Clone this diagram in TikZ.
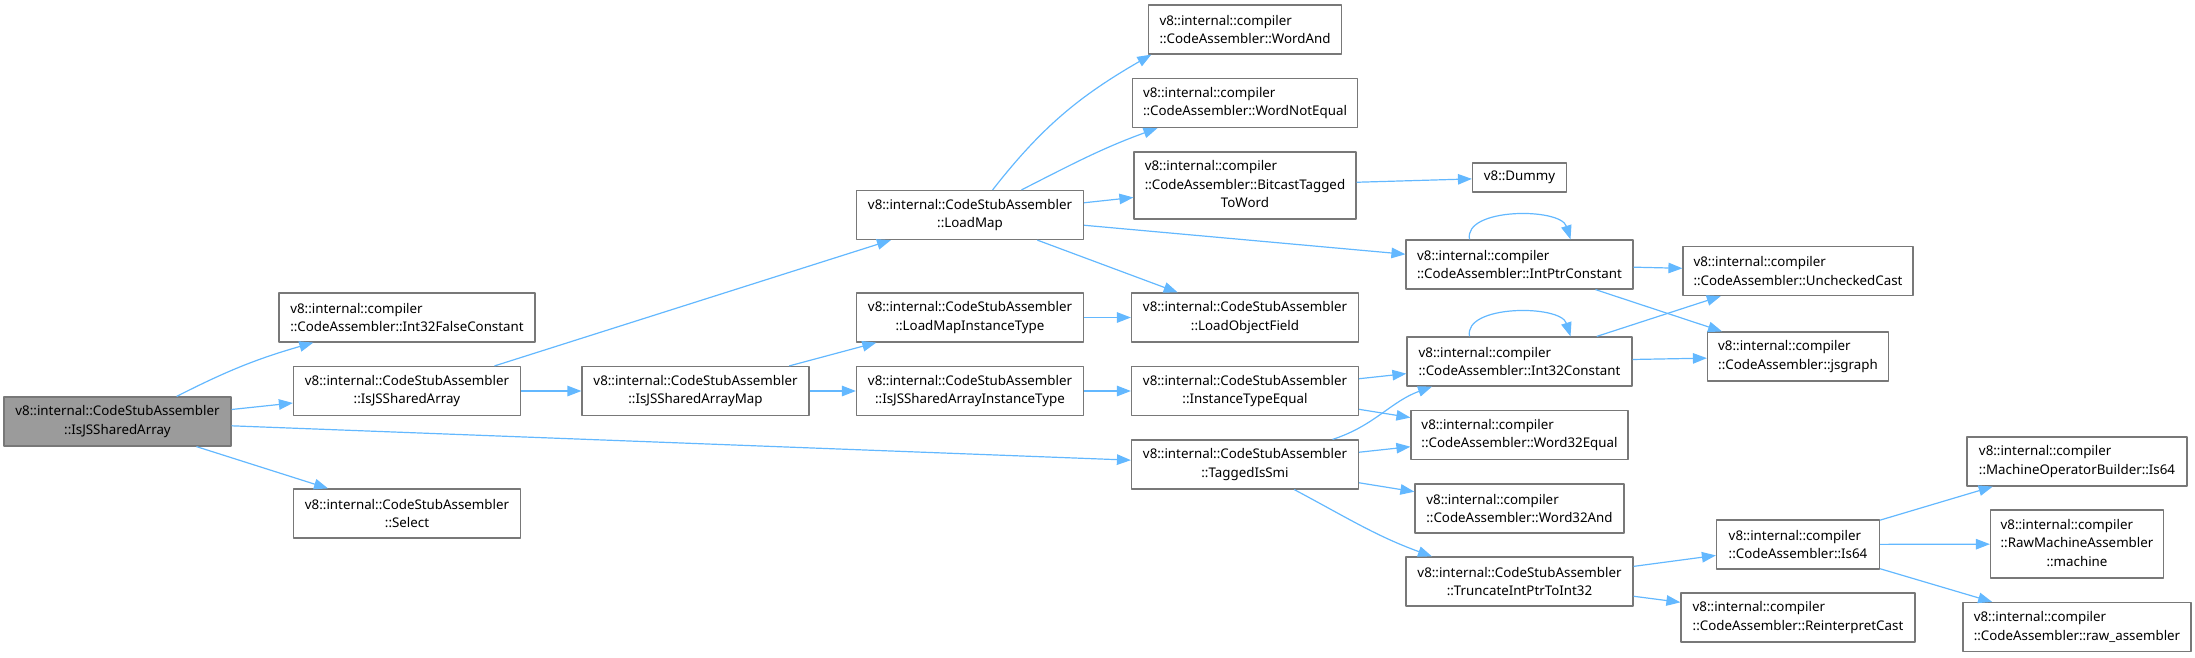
\documentclass[tikz,border=0pt]{standalone}
\usepackage{fontspec}
\setmainfont{Noto Sans}
\usetikzlibrary{arrows.meta}
\definecolor{callcol} {RGB}{ 99,184,255}
\definecolor{boxedge} {RGB}{120,120,120}
\definecolor{rootfill}{RGB}{155,155,155}

\begin{document}
\begin{tikzpicture}[
  % one unit = one pixel of the 2195x657 call graph, y runs downwards as -y
  x=1pt,y=1pt,
  >={Triangle[length=14pt,width=10.5pt]},
  line join=round,
  fn/.style={draw=boxedge,line width=1.2pt,fill=white,
    font=\fontsize{13.33}{18.5}\selectfont,
    inner xsep=4pt,inner ysep=2pt,minimum height=49pt},
  fnl/.style={fn,align=left},
  fnc/.style={fn,align=center},
  call/.style={callcol,line width=1.2pt,->}
]
\useasboundingbox (0,0) rectangle (2195,-657);

% ---- caller ---------------------------------------------------------------
\node[fnc,fill=rootfill,minimum width=227pt] (root) at (117.5,-421.5)
  {v8::internal::CodeStubAssembler\\::IsJSSharedArray};

% ---- rank 1 ---------------------------------------------------------------
\node[fnl,minimum width=256pt] (i32false) at (407,-317.5)
  {v8::internal::compiler\\::CodeAssembler::Int32FalseConstant};
\node[fnc,minimum width=227pt] (isjs) at (407,-391)
  {v8::internal::CodeStubAssembler\\::IsJSSharedArray};
\node[fnc,minimum width=227pt] (select) at (407,-513.5)
  {v8::internal::CodeStubAssembler\\::Select};

% ---- rank 2 ---------------------------------------------------------------
\node[fnc,minimum width=227pt] (isjsmap) at (695.5,-391)
  {v8::internal::CodeStubAssembler\\::IsJSSharedArrayMap};

% ---- rank 3 ---------------------------------------------------------------
\node[fnc,minimum width=227pt] (loadmap) at (970,-215)
  {v8::internal::CodeStubAssembler\\::LoadMap};
\node[fnc,minimum width=227pt] (lmit) at (970,-317.5)
  {v8::internal::CodeStubAssembler\\::LoadMapInstanceType};
\node[fnc,minimum width=227pt] (isait) at (970,-391)
  {v8::internal::CodeStubAssembler\\::IsJSSharedArrayInstanceType};

% ---- rank 4 ---------------------------------------------------------------
\node[fnl,minimum width=193pt] (wordand) at (1245,-29.5)
  {v8::internal::compiler\\::CodeAssembler::WordAnd};
\node[fnl,minimum width=225pt] (wordne) at (1245,-103)
  {v8::internal::compiler\\::CodeAssembler::WordNotEqual};
\node[fn,minimum width=222pt,minimum height=67pt] (bitcast) at (1245,-185.5)
  {\begin{tabular}{@{}l@{}}v8::internal::compiler\\::CodeAssembler::BitcastTagged\\
   \multicolumn{1}{@{}c@{}}{ToWord}\end{tabular}};
\node[fnc,minimum width=227pt] (lof) at (1245,-317.5)
  {v8::internal::CodeStubAssembler\\::LoadObjectField};
\node[fnc,minimum width=227pt] (itequal) at (1245,-391)
  {v8::internal::CodeStubAssembler\\::InstanceTypeEqual};
\node[fnc,minimum width=227pt] (tis) at (1245,-464.5)
  {v8::internal::CodeStubAssembler\\::TaggedIsSmi};

% ---- rank 5 ---------------------------------------------------------------
\node[fnc,minimum width=94pt,minimum height=29pt] (dummy) at (1519.5,-177.5)
  {v8::Dummy};
\node[fnl,minimum width=227pt] (ipc) at (1519.5,-264.5)
  {v8::internal::compiler\\::CodeAssembler::IntPtrConstant};
\node[fnl,minimum width=225pt] (i32c) at (1519.5,-361.5)
  {v8::internal::compiler\\::CodeAssembler::Int32Constant};
\node[fnl,minimum width=217pt] (w32eq) at (1519.5,-435)
  {v8::internal::compiler\\::CodeAssembler::Word32Equal};
\node[fnl,minimum width=209pt] (w32and) at (1519.5,-508.5)
  {v8::internal::compiler\\::CodeAssembler::Word32And};
\node[fnc,minimum width=227pt] (trunc) at (1519.5,-581.5)
  {v8::internal::CodeStubAssembler\\::TruncateIntPtrToInt32};

% ---- rank 6 ---------------------------------------------------------------
\node[fnl,minimum width=230pt] (unchecked) at (1798,-271)
  {v8::internal::compiler\\::CodeAssembler::UncheckedCast};
\node[fnl,minimum width=181pt] (jsgraph) at (1798,-356.5)
  {v8::internal::compiler\\::CodeAssembler::jsgraph};
\node[fnl,minimum width=163pt] (is64) at (1798,-544.5)
  {v8::internal::compiler\\::CodeAssembler::Is64};
\node[fnl,minimum width=234pt] (reint) at (1798,-617.5)
  {v8::internal::compiler\\::CodeAssembler::ReinterpretCast};

% ---- rank 7 ---------------------------------------------------------------
\node[fnl,minimum width=220pt] (mobis64) at (2077,-461.5)
  {v8::internal::compiler\\::MachineOperatorBuilder::Is64};
\node[fn,minimum width=173pt,minimum height=68pt] (machine) at (2077,-544)
  {\begin{tabular}{@{}l@{}}v8::internal::compiler\\::RawMachineAssembler\\
   \multicolumn{1}{@{}c@{}}{::machine}\end{tabular}};
\node[fnl,minimum width=228pt] (rawasm) at (2077,-627)
  {v8::internal::compiler\\::CodeAssembler::raw\_assembler};

% ---- calls ----------------------------------------------------------------
\draw[call] (root.23) to[out=27,in=196] (i32false.195);
\draw[call] (root) -- (isjs);
\draw[call] (root) -- (tis);
\draw[call] (root) -- (select);

\draw[call] (isjs.16) -- (loadmap);
\draw[call] (isjs) -- (isjsmap);
\draw[call] (isjsmap) -- (lmit);
\draw[call] (isjsmap) -- (isait);

\draw[call] (loadmap.48) to[out=52,in=210] (wordand.195);
\draw[call] (loadmap.26) to[out=27,in=200] (wordne.196);
\draw[call] (loadmap) -- (bitcast);
\draw[call] (loadmap) -- (ipc);
\draw[call] (loadmap) -- (lof);
\draw[call] (lmit) -- (lof);
\draw[call] (isait) -- (itequal);

\draw[call] (bitcast) -- (dummy);
\draw[call] (itequal) -- (i32c);
\draw[call] (itequal) -- (w32eq);
\draw[call] (tis.16) to[out=18,in=200] (i32c.196);
\draw[call] (tis) -- (w32eq);
\draw[call] (tis) -- (w32and);
\draw[call] (tis.-27) to[out=-28,in=160] (trunc.164);

% recursive calls
\draw[call] ([xshift=-50pt]ipc.north) .. controls +(-6,32) and +(-10,32) .. ([xshift=51pt]ipc.north);
\draw[call] ([xshift=-50pt]i32c.north) .. controls +(-6,32) and +(-10,32) .. ([xshift=51pt]i32c.north);

\draw[call] (ipc) -- (unchecked);
\draw[call] (ipc) -- (jsgraph);
\draw[call] (i32c) -- (unchecked);
\draw[call] (i32c) -- (jsgraph);
\draw[call] (trunc) -- (is64);
\draw[call] (trunc) -- (reint);

\draw[call] (is64) -- (mobis64);
\draw[call] (is64) -- (machine);
\draw[call] (is64) -- (rawasm);

\end{tikzpicture}
\end{document}
